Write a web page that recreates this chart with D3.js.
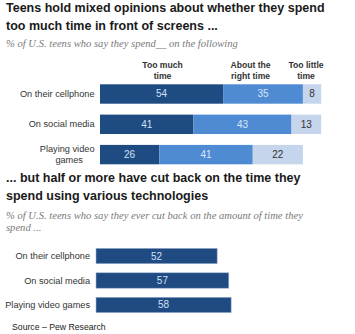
<!DOCTYPE html>
<html>
<head>
<meta charset="utf-8">
<script src="https://cdn.jsdelivr.net/npm/d3@7"></script>
<style>
    html, body { margin: 0; padding: 0; background: #ffffff; }
    svg { display: block; }
    .title { font-family: "Liberation Sans", Arial, sans-serif; font-weight: bold; fill: #1a1a1a; }
    .sub { font-family: "Liberation Serif", "DejaVu Serif", serif; font-style: italic; fill: #7a7a7a; }
    .lbl { font-family: "Liberation Sans", Arial, sans-serif; }
</style>
</head>
<body>
<svg id="chart"></svg>
<script>
// data -----------------------------------------------------------
const categories1 = ['On their cellphone', 'On social media', 'Playing video games'];
const labelLines1 = [['On their cellphone'], ['On social media'], ['Playing video', 'games']];
const seriesNames = ['Too much time', 'About the right time', 'Too little time'];
const headerLines = [['Too much', 'time'], ['About the', 'right time'], ['Too little', 'time']];
const tooMuch = [54, 41, 26];
const rightTime = [35, 43, 41];
const tooLittle = [8, 13, 22];

const categories2 = ['On their cellphone', 'On social media', 'Playing video games'];
const cutBack = [52, 57, 58];

const W = 355, H = 334;

class PewSketch {
    constructor (selector) {
        this.svg = d3.select(selector).attr('width', W).attr('height', H);
        this.colors = ['#1f4b83', '#4f8bd3', '#c4d5ec'];
        this.textColors = ['#cfe0f6', '#d8e7fa', '#333333'];
    }
    text (x, y, str, cls, size, anchor) {
        return this.svg.append('text')
            .attr('class', cls)
            .attr('x', x).attr('y', y)
            .attr('font-size', size)
            .attr('text-anchor', anchor || 'start')
            .attr('dominant-baseline', 'central')
            .style('fill', cls == 'lbl' ? '#333333' : null)
            .text(str);
    }
    drawTitles () {
        this.text(6, 8, 'Teens hold mixed opinions about whether they spend', 'title', 12.5);
        this.text(6, 25.5, 'too much time in front of screens ...', 'title', 12.5);
        this.text(6, 43, '% of U.S. teens who say they spend__ on the following', 'sub', 10.6);

        this.text(6, 178, '... but half or more have cut back on the time they', 'title', 12.5);
        this.text(6, 195.5, 'spend using various technologies', 'title', 12.5);
        this.text(6, 215, '% of U.S. teens who say they ever cut back on the amount of time they', 'sub', 10.6);
        this.text(6, 227, 'spend ...', 'sub', 10.6);

        this.text(12, 327, 'Source \u2013 Pew Research', 'lbl', 8.7).style('fill', '#222');
    }
    drawStacked () {
        let rows = categories1.map((c, i) => ({
            cat: c, lines: labelLines1[i],
            vals: [tooMuch[i], rightTime[i], tooLittle[i]]
        }));
        let stack = d3.stack().keys([0, 1, 2]).value((d, k) => d.vals[k]);
        let layers = stack(rows);

        let x = d3.scaleLinear().domain([0, 100]).range([100, 328]);
        let y = d3.scaleBand().domain(categories1).range([84.3, 164.3]).paddingInner(0.36).paddingOuter(0);

        let g = this.svg.append('g').attr('class', 'stacked');

        // column headers
        let headerX = [162.5, 250.5, 306];
        headerLines.forEach((lines, k) => {
            lines.forEach((ln, j) => {
                this.text(headerX[k], 65 + j * 11, ln, 'lbl', 8.6, 'middle')
                    .attr('font-weight', 'bold');
            });
        });

        let layer = g.selectAll('g.layer')
            .data(layers)
            .enter()
            .append('g')
            .attr('class', 'layer');

        layer.selectAll('rect')
            .data(d => d)
            .enter()
            .append('rect')
            .attr('x', d => x(d[0]))
            .attr('y', d => y(d.data.cat))
            .attr('width', d => x(d[1]) - x(d[0]))
            .attr('height', y.bandwidth())
            .attr('fill', (d, i, n) => this.colors[d3.select(n[i].parentNode).datum().key]);

        layer.selectAll('text')
            .data(d => d)
            .enter()
            .append('text')
            .attr('class', 'lbl')
            .attr('x', d => (x(d[0]) + x(d[1])) / 2)
            .attr('y', d => y(d.data.cat) + y.bandwidth() / 2)
            .attr('text-anchor', 'middle')
            .attr('dominant-baseline', 'central')
            .attr('font-size', 10)
            .style('fill', (d, i, n) => this.textColors[d3.select(n[i].parentNode).datum().key])
            .text(d => d[1] - d[0]);

        // row labels
        rows.forEach(r => {
            let cy = y(r.cat) + y.bandwidth() / 2;
            if (r.lines.length == 1) {
                this.text(94.5, cy, r.lines[0], 'lbl', 9.2, 'end');
            } else {
                let t = this.text(94.5, cy - 5.5, r.lines[0], 'lbl', 9.2, 'end');
                let w = t.node().getComputedTextLength();
                this.text(94.5 - w / 2 + 2, cy + 5.5, r.lines[1], 'lbl', 9.2, 'middle');
            }
        });
    }
    drawBars () {
        let x = d3.scaleLinear().domain([0, 100]).range([96, 329]);
        let y = d3.scaleBand().domain(categories2).range([248.3, 312.7]).paddingInner(0.37).paddingOuter(0);

        let g = this.svg.append('g').attr('class', 'bars');

        g.selectAll('rect')
            .data(cutBack)
            .enter()
            .append('rect')
            .attr('x', x(0))
            .attr('y', (d, i) => y(categories2[i]))
            .attr('width', d => x(d) - x(0))
            .attr('height', y.bandwidth())
            .attr('fill', '#1f4a82')
            .attr('stroke', '#9fb5d6')
            .attr('stroke-width', 0.6);

        g.selectAll('text.val')
            .data(cutBack)
            .enter()
            .append('text')
            .attr('class', 'lbl val')
            .attr('x', d => (x(d) + x(0)) / 2)
            .attr('y', (d, i) => y(categories2[i]) + y.bandwidth() / 2)
            .attr('text-anchor', 'middle')
            .attr('dominant-baseline', 'central')
            .attr('font-size', 10)
            .style('fill', '#cfe0f6')
            .text(d => d);

        categories2.forEach(c => {
            this.text(90, y(c) + y.bandwidth() / 2, c, 'lbl', 9.2, 'end');
        });
    }
}

let sketch = new PewSketch('#chart');
sketch.drawTitles();
sketch.drawStacked();
sketch.drawBars();
</script>
</body>
</html>
